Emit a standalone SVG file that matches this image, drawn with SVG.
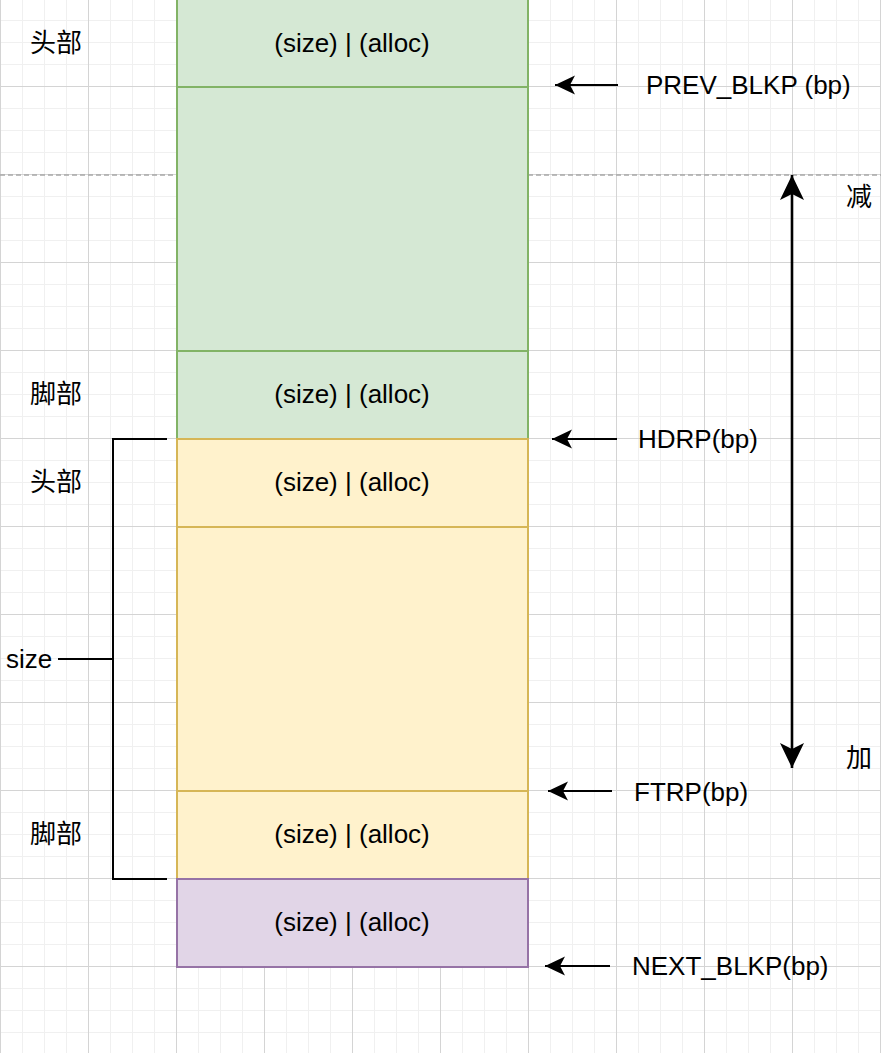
<svg xmlns="http://www.w3.org/2000/svg" width="881" height="1053" viewBox="0 0 881 1053">
<style>
text{font-family:"Liberation Sans","Noto Sans CJK SC",sans-serif;font-size:26px;fill:#000}
.c{text-anchor:middle}
.g{fill:#d5e8d4;stroke:#82b366;stroke-width:2}
.y{fill:#fff2cc;stroke:#d6b656;stroke-width:2}
.p{fill:#e1d5e7;stroke:#9673a6;stroke-width:2}
.ln{fill:none;stroke:#000;stroke-width:2}
</style>
<defs>
<pattern id="grid" width="88" height="88" patternUnits="userSpaceOnUse" x="0" y="-2">
<path d="M22.5 0V88M44.5 0V88M66.5 0V88M0 22.5H88M0 44.5H88M0 66.5H88" stroke="#f0f0f0" stroke-width="1"/>
<path d="M0.5 0V88M0 0.5H88" stroke="#d4d4d4" stroke-width="1"/>
</pattern>
<marker id="ah" markerUnits="userSpaceOnUse" markerWidth="22" markerHeight="22" refX="20" refY="10" orient="auto-start-reverse" viewBox="0 0 22 22">
<path d="M20 10L0 0.5L5 10L0 19.5Z" fill="#000"/>
</marker>
<marker id="av" markerUnits="userSpaceOnUse" markerWidth="26" markerHeight="26" refX="25" refY="12" orient="auto-start-reverse" viewBox="0 0 26 26">
<path d="M25 12L0 0L6 12L0 24Z" fill="#000"/>
</marker>
</defs>
<rect width="881" height="1053" fill="#fff"/>
<rect width="881" height="1053" fill="url(#grid)"/>
<path d="M0 175H176M528 175H881" stroke="#a8a8a8" stroke-width="1.3" stroke-dasharray="5 3"/>

<g id="prev-header"><rect class="g" x="177" y="-1" width="351" height="88"/><text class="c" x="352" y="52">(size) | (alloc)</text></g>
<g id="prev-body"><rect class="g" x="177" y="87" width="351" height="264"/></g>
<g id="prev-footer"><rect class="g" x="177" y="351" width="351" height="88"/><text class="c" x="352" y="403">(size) | (alloc)</text></g>
<g id="cur-header"><rect class="y" x="177" y="439" width="351" height="88"/><text class="c" x="352" y="491">(size) | (alloc)</text></g>
<g id="cur-body"><rect class="y" x="177" y="527" width="351" height="264"/></g>
<g id="cur-footer"><rect class="y" x="177" y="791" width="351" height="88"/><text class="c" x="352" y="843">(size) | (alloc)</text></g>
<g id="next-header"><rect class="p" x="177" y="879" width="351" height="88"/><text class="c" x="352" y="931">(size) | (alloc)</text></g>

<g id="label-head1"><text class="c" x="56" y="52">头部</text></g>
<g id="label-foot1"><text class="c" x="56" y="403">脚部</text></g>
<g id="label-head2"><text class="c" x="56" y="491">头部</text></g>
<g id="label-foot2"><text class="c" x="56" y="843">脚部</text></g>
<g id="label-size"><text x="6" y="668">size</text></g>
<g id="label-prev"><text x="646" y="94">PREV_BLKP (bp)</text></g>
<g id="label-hdrp"><text x="638" y="448">HDRP(bp)</text></g>
<g id="label-ftrp"><text x="634" y="801">FTRP(bp)</text></g>
<g id="label-next"><text x="632" y="975">NEXT_BLKP(bp)</text></g>
<g id="label-dec"><text class="c" x="859" y="206">减</text></g>
<g id="label-inc"><text class="c" x="859" y="767">加</text></g>

<g id="connectors">
<path class="ln" d="M618 85H555" marker-end="url(#ah)"/>
<path class="ln" d="M617 439H552" marker-end="url(#ah)"/>
<path class="ln" d="M612 791H548" marker-end="url(#ah)"/>
<path class="ln" d="M610 966H545" marker-end="url(#ah)"/>
<path class="ln" style="stroke-width:2.6" d="M792 175V768" marker-start="url(#av)" marker-end="url(#av)"/>
<path class="ln" d="M167 439H113V879H167"/>
<path class="ln" d="M58 659H113"/>
</g>
</svg>
